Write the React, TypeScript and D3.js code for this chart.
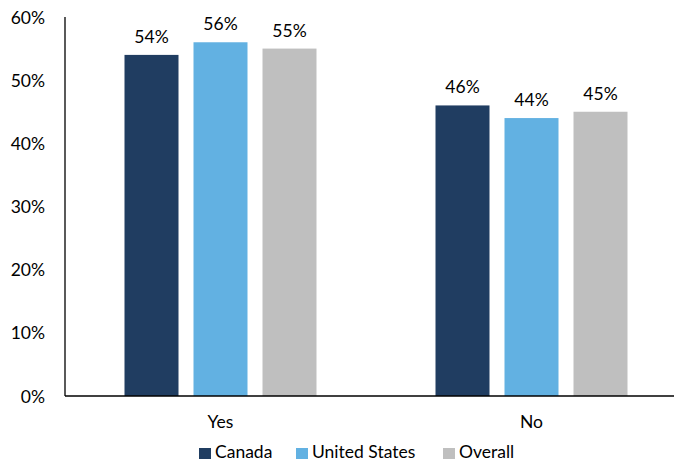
import React from "react";
import * as d3 from "d3";

const categories = ["Yes", "No"];
const seriesNames = ["Canada", "United States", "Overall"];
const colors = ["#203D61", "#62B1E2", "#BFBFBF"];
const canada = [54, 46];
const unitedStates = [56, 44];
const overall = [55, 45];
const yTicks = [0, 10, 20, 30, 40, 50, 60];

const W = 674;
const H = 466;
const FONT = "Lato, 'Open Sans', sans-serif";
const FS = 17.5;

export default function App() {
  const values = [canada, unitedStates, overall];
  const x0 = d3.scaleBand().domain(categories).range([65, 687]).paddingInner(0).paddingOuter(0);
  const x1 = d3
    .scaleBand()
    .domain(seriesNames)
    .range([0, 192])
    .paddingInner(15 / 69);
  const y = d3.scaleLinear().domain([0, 60]).range([396, 17]);
  const groupOffset = (x0.bandwidth() - 192) / 2;

  const legendX = [199, 296, 443];

  return (
    <svg width={W} height={H} style={{ position: "absolute", left: 0, top: 0, fontFamily: FONT }}>
      <rect width={W} height={H} fill="#fff" />
      {categories.map((c, ci) => (
        <g key={c}>
          {seriesNames.map((s, si) => {
            const v = values[si][ci];
            const bx = (x0(c) as number) + groupOffset + (x1(s) as number);
            return (
              <g key={s}>
                <rect x={bx} y={y(v)} width={x1.bandwidth()} height={y(0) - y(v)} fill={colors[si]} />
                <text x={bx + x1.bandwidth() / 2} y={y(v) - 12} textAnchor="middle" fontSize={FS} fill="#000">
                  {v}%
                </text>
              </g>
            );
          })}
          <text x={(x0(c) as number) + x0.bandwidth() / 2} y={428} textAnchor="middle" fontSize={FS} fill="#000">
            {c}
          </text>
        </g>
      ))}
      <line x1={65} x2={W} y1={396} y2={396} stroke="#000" strokeWidth={1.3} />
      <line x1={65} x2={65} y1={17} y2={396} stroke="#000" strokeWidth={1.3} />
      {yTicks.map((t) => (
        <text key={t} x={45} y={y(t) + 6.5} textAnchor="end" fontSize={FS} fill="#000">
          {t}%
        </text>
      ))}
      {seriesNames.map((s, i) => (
        <g key={s}>
          <rect x={legendX[i]} y={448} width={12} height={11} fill={colors[i]} />
          <text x={legendX[i] + 16} y={458} fontSize={FS} fill="#000">
            {s}
          </text>
        </g>
      ))}
    </svg>
  );
}
